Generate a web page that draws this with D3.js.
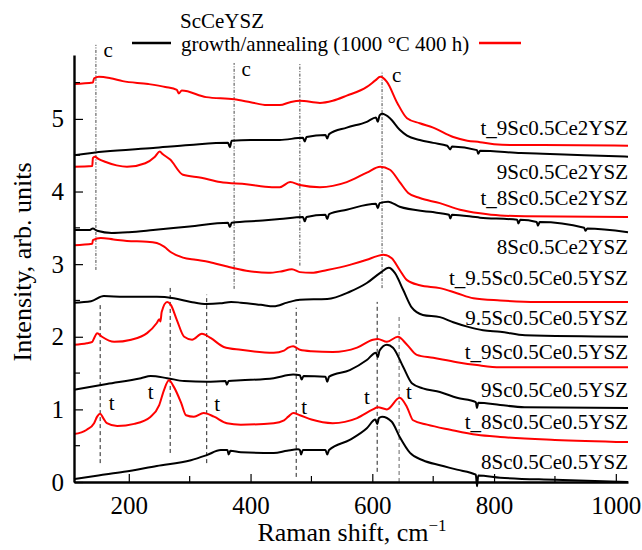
<!DOCTYPE html>
<html><head><meta charset="utf-8">
<script src="https://cdn.jsdelivr.net/npm/d3@7"></script>
<style>body{margin:0;background:#fff}</style>
</head><body><svg id="c" width="642" height="550" font-family="Liberation Serif"></svg>
<script>
// ---------- data ----------
const xTicksMajor = [200, 400, 600, 800, 1000];
const xTicksMinor = [300, 500, 700, 900];
const yTicksMajor = [0, 1, 2, 3, 4, 5];
const yTicksMinor = [0.5, 1.5, 2.5, 3.5, 4.5, 5.5];

const seriesNames = ["t_9Sc0.5Ce2YSZ","9Sc0.5Ce2YSZ","t_8Sc0.5Ce2YSZ","8Sc0.5Ce2YSZ",
  "t_9.5Sc0.5Ce0.5YSZ","9.5Sc0.5Ce0.5YSZ","t_9Sc0.5Ce0.5YSZ","9Sc0.5Ce0.5YSZ",
  "t_8Sc0.5Ce0.5YSZ","8Sc0.5Ce0.5YSZ"];
const seriesType = ["annealed","growth","annealed","growth","annealed","growth","annealed","growth","annealed","growth"];
const labelLevels = [4.88, 4.27, 3.91, 3.24, 2.81, 2.27, 1.79, 1.27, 0.83, 0.28];

const t_9Sc05Ce2 = [[110,5.48],[141,5.50],[143,5.56],[151,5.58],[170,5.56],[190,5.52],[232,5.48],[260,5.44],[279,5.40],[282,5.35],[287,5.39],[327,5.30],[373,5.27],[400,5.23],[427,5.19],[448,5.19],[465,5.23],[481,5.25],[514,5.22],[535,5.25],[558,5.32],[591,5.44],[605,5.53],[613,5.58],[624,5.51],[641,5.22],[657,5.01],[678,4.94],[700,4.88],[733,4.75],[756,4.70],[777,4.68],[800,4.65],[830,4.64],[880,4.64],[1020,4.63]];
const g_9Sc05Ce2 = [[110,4.50],[160,4.55],[240,4.60],[300,4.64],[363,4.67],[366,4.61],[369,4.70],[400,4.71],[448,4.71],[486,4.74],[489,4.69],[492,4.75],[523,4.78],[526,4.73],[529,4.79],[558,4.88],[591,4.96],[606,5.02],[609,4.96],[612,5.05],[616,5.07],[629,5.01],[645,4.85],[657,4.77],[678,4.71],[700,4.67],[723,4.63],[728,4.58],[731,4.62],[772,4.57],[774,4.52],[777,4.56],[844,4.53],[880,4.52],[948,4.50],[1020,4.48]];
const t_8Sc05Ce2 = [[110,4.34],[140,4.35],[141,4.46],[144,4.48],[150,4.45],[161,4.41],[180,4.36],[197,4.34],[227,4.39],[243,4.48],[251,4.55],[255,4.52],[268,4.44],[289,4.23],[319,4.19],[350,4.13],[393,4.10],[435,4.06],[448,4.06],[465,4.13],[481,4.09],[514,4.06],[558,4.13],[591,4.26],[613,4.34],[629,4.30],[645,4.13],[659,3.98],[678,3.91],[711,3.84],[744,3.75],[777,3.70],[810,3.67],[851,3.66],[1020,3.65]];
const g_8Sc05Ce2 = [[110,3.47],[135,3.47],[141,3.49],[148,3.46],[172,3.43],[200,3.44],[240,3.47],[300,3.52],[363,3.57],[366,3.51],[369,3.57],[420,3.60],[448,3.62],[486,3.65],[489,3.59],[492,3.65],[523,3.68],[526,3.62],[529,3.69],[558,3.75],[606,3.83],[609,3.77],[612,3.84],[626,3.86],[645,3.79],[695,3.72],[726,3.68],[728,3.63],[731,3.68],[777,3.64],[838,3.61],[840,3.56],[843,3.61],[870,3.58],[872,3.53],[875,3.58],[948,3.50],[950,3.46],[953,3.49],[1020,3.44]];
const t_95Sc05Ce05 = [[110,3.26],[140,3.28],[141,3.33],[154,3.36],[175,3.34],[197,3.32],[230,3.31],[246,3.29],[258,3.24],[270,3.16],[289,3.09],[310,3.06],[332,3.03],[360,2.97],[393,2.91],[429,2.88],[450,2.90],[468,2.93],[481,2.89],[500,2.88],[526,2.92],[563,2.99],[591,3.06],[608,3.11],[618,3.13],[632,3.08],[645,2.92],[657,2.78],[678,2.71],[711,2.67],[739,2.60],[766,2.53],[810,2.50],[870,2.48],[1020,2.48]];
const g_95Sc05Ce05 = [[110,2.47],[138,2.49],[159,2.56],[192,2.55],[246,2.55],[274,2.53],[302,2.48],[328,2.45],[350,2.46],[368,2.48],[384,2.47],[417,2.44],[438,2.42],[460,2.47],[481,2.51],[526,2.52],[563,2.62],[591,2.74],[613,2.88],[627,2.95],[637,2.88],[651,2.64],[665,2.40],[683,2.30],[711,2.27],[733,2.20],[756,2.14],[782,2.09],[810,2.07],[851,2.02],[1020,2.00]];
const t_9Sc05Ce05 = [[110,1.89],[131,1.91],[140,1.93],[143,1.98],[148,2.05],[156,2.00],[176,1.93],[204,1.96],[230,2.05],[246,2.19],[250,2.24],[252,2.21],[254,2.34],[263,2.48],[269,2.44],[279,2.23],[291,2.00],[304,1.96],[320,2.04],[335,1.98],[356,1.86],[384,1.82],[438,1.78],[455,1.81],[462,1.85],[470,1.87],[481,1.82],[500,1.80],[535,1.79],[575,1.85],[601,1.96],[609,1.97],[624,1.93],[642,2.00],[657,1.89],[673,1.75],[700,1.71],[739,1.65],[772,1.61],[810,1.58],[1020,1.58]];
const g_9Sc05Ce05 = [[110,1.27],[164,1.35],[220,1.43],[236,1.46],[263,1.43],[291,1.39],[328,1.38],[359,1.39],[361,1.34],[364,1.39],[384,1.40],[438,1.43],[470,1.48],[481,1.47],[484,1.41],[487,1.46],[523,1.45],[526,1.38],[529,1.45],[563,1.54],[591,1.68],[606,1.78],[609,1.72],[612,1.81],[624,1.89],[634,1.85],[651,1.58],[665,1.36],[683,1.29],[711,1.24],[739,1.16],[770,1.10],[772,1.02],[774,1.09],[810,1.06],[850,1.03],[1020,1.02]];
const t_8Sc05Ce05 = [[110,0.66],[131,0.72],[143,0.81],[148,0.90],[153,0.94],[158,0.88],[164,0.81],[181,0.77],[209,0.80],[236,0.90],[250,1.06],[258,1.27],[266,1.40],[274,1.31],[286,1.09],[294,0.92],[307,0.90],[323,0.95],[340,0.90],[361,0.81],[384,0.79],[438,0.81],[455,0.85],[462,0.90],[470,0.95],[481,0.92],[500,0.86],[535,0.81],[575,0.88],[601,1.00],[609,1.03],[624,1.00],[645,1.16],[657,1.03],[667,0.85],[690,0.79],[728,0.72],[772,0.65],[810,0.62],[900,0.58],[1020,0.55]];
const g_8Sc05Ce05 = [[110,0.04],[150,0.09],[192,0.14],[246,0.22],[302,0.30],[328,0.37],[351,0.44],[362,0.44],[364,0.38],[367,0.43],[384,0.41],[438,0.40],[460,0.43],[478,0.45],[481,0.44],[483,0.38],[486,0.44],[523,0.44],[526,0.38],[529,0.44],[563,0.58],[591,0.74],[605,0.86],[608,0.80],[611,0.88],[616,0.90],[632,0.83],[645,0.62],[662,0.40],[683,0.30],[711,0.23],[739,0.17],[770,0.10],[772,-0.06],[774,0.09],[810,0.06],[900,0.03],[1020,0.0]];
const seriesValues = [t_9Sc05Ce2, g_9Sc05Ce2, t_8Sc05Ce2, g_8Sc05Ce2, t_95Sc05Ce05, g_95Sc05Ce05, t_9Sc05Ce05, g_9Sc05Ce05, t_8Sc05Ce05, g_8Sc05Ce05];

// marker lines: [position cm-1, y from, y to]
const cLines = [[146, 2.92, 6.02], [373, 2.66, 5.77], [481, 2.98, 5.77], [616, 2.67, 5.66]];
const cLabels = [[166, 5.95], [393, 5.69], [640, 5.60]];
const tLines = [[153, 0.26, 2.45], [268, 0.40, 2.71], [328, 0.26, 2.58], [475, 0.07, 2.40], [608, 0.14, 2.48], [644, 0.0, 2.30]];
const tLabels = [[172, 1.09], [236, 1.23], [345, 1.07], [488, 1.03], [591, 1.17], [660, 1.24]];

const legendTitle = "ScCeYSZ";
const legendText = "growth/annealing (1000 °C 400 h)";
const xTitle = "Raman shift, cm";
const yTitle = "Intensity, arb. units";

// ---------- layout ----------
const FONT = "Liberation Serif";
const svg = d3.select("#c");
const X0 = 74, X1 = 628, Y0 = 482, Y1 = 55;
const x = d3.scaleLinear().domain([110, 1020]).range([X0, X1]);
const y = d3.scaleLinear().domain([0, 5.88]).range([Y0, Y1]);
const colors = {annealed: "#ff0000", growth: "#000000"};

// marker lines
const gm = svg.append("g");
gm.selectAll("line.c").data(cLines).join("line")
  .attr("x1", d => x(d[0])).attr("x2", d => x(d[0]))
  .attr("y1", d => y(d[1])).attr("y2", d => y(d[2]))
  .attr("stroke", "#333").attr("stroke-width", 0.9).attr("stroke-dasharray", "3,1.5,1,1.5");
gm.selectAll("line.t").data(tLines).join("line")
  .attr("x1", d => x(d[0])).attr("x2", d => x(d[0]))
  .attr("y1", d => y(d[1])).attr("y2", d => y(d[2]))
  .attr("stroke", (d, i) => i === 5 ? "#666" : "#222").attr("stroke-width", 1).attr("stroke-dasharray", "4,3");
gm.selectAll("text.c").data(cLabels).join("text")
  .attr("x", d => x(d[0])).attr("y", d => y(d[1])).attr("dy", "0.32em")
  .attr("text-anchor", "middle").attr("font-family", FONT).attr("font-size", 21).text("c");
gm.selectAll("text.t").data(tLabels).join("text")
  .attr("x", d => x(d[0])).attr("y", d => y(d[1])).attr("dy", "0.32em")
  .attr("text-anchor", "middle").attr("font-family", FONT).attr("font-size", 21).text("t");

// curves
const line = d3.line().x(d => x(d[0])).y(d => y(d[1])).curve(d3.curveMonotoneX);
svg.append("g").selectAll("path").data(seriesValues).join("path")
  .attr("d", line).attr("fill", "none")
  .attr("stroke", (d, i) => colors[seriesType[i]]).attr("stroke-width", 2)
  .attr("stroke-linejoin", "round");

// series labels
svg.append("g").selectAll("text").data(seriesNames).join("text")
  .attr("x", x(1020)).attr("y", (d, i) => y(labelLevels[i])).attr("dy", "0.35em")
  .attr("text-anchor", "end").attr("font-family", FONT).attr("font-size", 21).text(d => d);

// axes
const xAxis = d3.axisBottom(x).tickValues(xTicksMajor).tickFormat(d3.format("d"))
  .tickSizeInner(-8).tickSizeOuter(0).tickPadding(14);
const gx = svg.append("g").attr("transform", `translate(0,${Y0})`).call(xAxis);
gx.attr("font-family", FONT);
gx.selectAll(".tick text").attr("font-size", 25).attr("font-family", FONT);
gx.selectAll(".tick line").attr("stroke-width", 1.2);
gx.append("g").selectAll("line").data(xTicksMinor).join("line")
  .attr("x1", d => x(d)).attr("x2", d => x(d)).attr("y1", 0).attr("y2", -6)
  .attr("stroke", "#000").attr("stroke-width", 1.2);
gx.select(".domain").attr("stroke-width", 2.4);

const yAxis = d3.axisLeft(y).tickValues(yTicksMajor).tickFormat(d3.format("d"))
  .tickSizeInner(-9).tickSizeOuter(0).tickPadding(10);
const gy = svg.append("g").attr("transform", `translate(${X0},0)`).call(yAxis);
gy.attr("font-family", FONT);
gy.selectAll(".tick text").attr("font-size", 25).attr("font-family", FONT);
gy.selectAll(".tick line").attr("stroke-width", 1.2);
gy.append("g").selectAll("line").data(yTicksMinor).join("line")
  .attr("x1", 0).attr("x2", 6).attr("y1", d => y(d)).attr("y2", d => y(d))
  .attr("stroke", "#000").attr("stroke-width", 1.2);
gy.select(".domain").attr("stroke-width", 2.4);

// axis titles
const xt = svg.append("text").attr("x", 352).attr("y", 541).attr("text-anchor", "middle")
  .attr("font-family", FONT).attr("font-size", 26);
xt.append("tspan").text(xTitle);
xt.append("tspan").attr("dy", -10).attr("font-size", 17).text("\u22121");
svg.append("text").attr("transform", "translate(31,262) rotate(-90)").attr("text-anchor", "middle")
  .attr("font-family", FONT).attr("font-size", 26).text(yTitle);

// legend
svg.append("text").attr("x", 222).attr("y", 21).attr("dy", "0.35em").attr("text-anchor", "middle")
  .attr("font-family", FONT).attr("font-size", 21).text(legendTitle);
svg.append("text").attr("x", 181).attr("y", 43.5).attr("dy", "0.35em")
  .attr("font-family", FONT).attr("font-size", 21).text(legendText);
svg.append("line").attr("x1", 132).attr("x2", 171).attr("y1", 43).attr("y2", 43).attr("stroke", colors.growth).attr("stroke-width", 2.5);
svg.append("line").attr("x1", 479).attr("x2", 521).attr("y1", 43).attr("y2", 43).attr("stroke", colors.annealed).attr("stroke-width", 2.5);
</script></body></html>
